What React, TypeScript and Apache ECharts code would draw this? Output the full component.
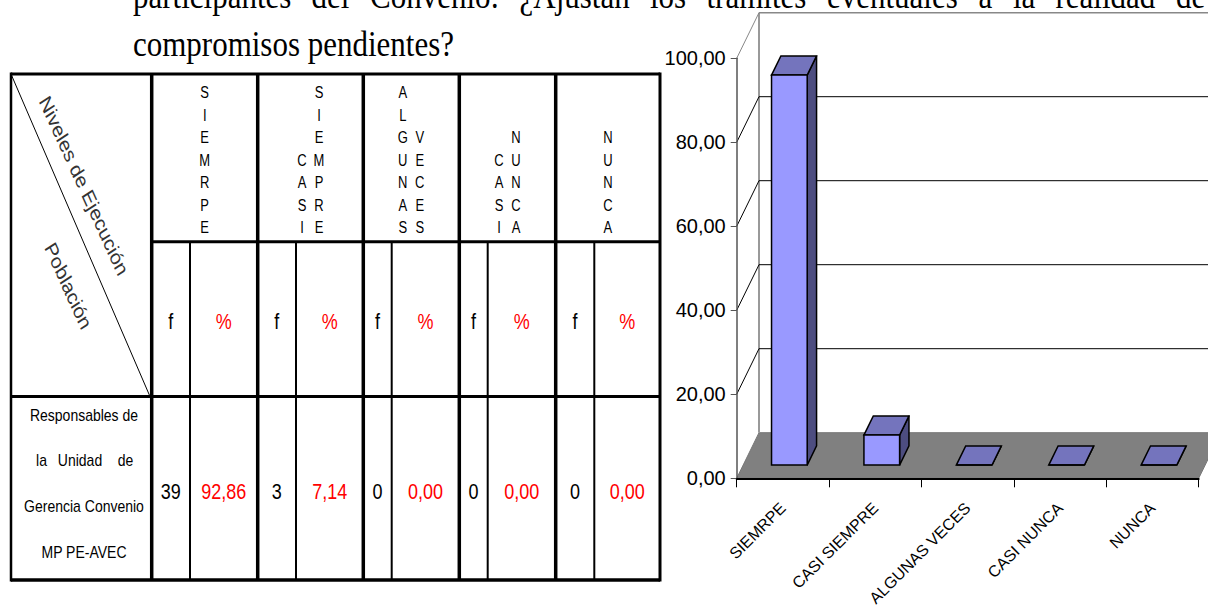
import React, { useEffect, useRef } from 'react';
import * as echarts from 'echarts';

// ---------- data ----------
const categories = ['SIEMRPE', 'CASI SIEMPRE', 'ALGUNAS VECES', 'CASI NUNCA', 'NUNCA'];
const percentages = [92.86, 7.14, 0, 0, 0];
const frequencies = [39, 3, 0, 0, 0];
const yMin = 0;
const yMax = 100;
const yInterval = 20;
const yTicks = [0, 20, 40, 60, 80, 100];
const headerLeft = ['', 'CASI', 'ALGUNAS', 'CASI', ''];
const headerRight = ['SIEMRPE', 'SIEMPRE', 'VECES', 'NUNCA', 'NUNCA'];
const populationLines = ['Responsables de', 'la Unidad de', 'Gerencia Convenio', 'MP PE-AVEC'];
const titleLine1 = ['participantes', 'del', 'Convenio:', '¿Ajustan', 'los', 'trámites', 'eventuales', 'a', 'la', 'realidad', 'de'];
const titleLine2 = 'compromisos pendientes?';
const diagTop = 'Niveles de Ejecución';
const diagBottom = 'Población';

// ---------- layout / style ----------
const SANS = "'Liberation Sans', Arial, sans-serif";
const SERIF = "'Liberation Serif', 'Times New Roman', serif";
const SY = 1.2;
const DX = 22.3;
const DY = -45.6;
const F0 = 0.29;
const F1 = 0.71;
const BAR_FR = 0.386;

const fmt = (v: number) => v.toFixed(2).replace('.', ',');

function txt(x: number, y: number, text: string, o: any = {}) {
  return {
    type: 'group',
    x,
    y,
    scaleY: o.sy ?? SY,
    silent: true,
    children: [
      {
        type: 'text',
        rotation: o.rot || 0,
        style: {
          text,
          x: 0,
          y: 0,
          align: o.align || 'center',
          verticalAlign: o.va || 'middle',
          fill: o.color || '#000',
          fontSize: o.size || 14,
          fontFamily: o.font || SANS,
          lineHeight: o.lh,
        },
      },
    ],
  };
}

function ln(x1: number, y1: number, x2: number, y2: number, w: number, c = '#000') {
  return { type: 'line', silent: true, shape: { x1, y1, x2, y2 }, style: { stroke: c, lineWidth: w } };
}

// table geometry
const TL = 11, TT = 74, TR = 660, TB = 580, HS = 241.7, RS = 396.5;
const groupX = [151.7, 257.7, 363.3, 459.3, 555.7, 660];
const splitX = [190, 296, 391.7, 487.7, 594.3];

function buildGraphics() {
  const g: any[] = [];
  // title
  const t1x = [133, 311.5, 370, 519.5, 650, 706.5, 827, 978.5, 1013, 1055.5, 1176];
  titleLine1.forEach((w, i) => g.push(txt(t1x[i], -4, w, { align: 'left', size: 31, font: SERIF, sy: 1.15 })));
  g.push(txt(133, 44, titleLine2, { align: 'left', size: 31, font: SERIF, sy: 1.15 }));

  // table lines
  g.push(ln(TL, TT, TR, TT, 3));
  g.push(ln(TL, TB, TR, TB, 3.5));
  g.push(ln(TL, TT - 1.5, TL, TB + 1.5, 2.5));
  g.push(ln(TR, TT - 1.5, TR, TB + 1.5, 3));
  g.push(ln(groupX[0], HS, TR, HS, 3));
  g.push(ln(TL, RS, TR, RS, 3));
  groupX.slice(0, 5).forEach((x) => g.push(ln(x, TT, x, TB, 3.5)));
  splitX.forEach((x) => g.push(ln(x, HS, x, TB, 2)));
  g.push(ln(TL, TT, 150, RS, 1));

  // diagonal header texts
  g.push(txt(84, 185.7, diagTop, { rot: -1.074, size: 18, color: '#333' }));
  g.push(txt(68.3, 285.7, diagBottom, { rot: -1.074, size: 18, color: '#333' }));

  // header letters + f / % + values
  for (let k = 0; k < 5; k++) {
    const c = (groupX[k] + groupX[k + 1]) / 2;
    const opts = { va: 'bottom', size: 13, lh: 18.75 };
    if (headerLeft[k]) {
      g.push(txt(c - 8.5, 239.3, headerLeft[k].split('').join('\n'), opts));
      g.push(txt(c + 8.5, 239.3, headerRight[k].split('').join('\n'), opts));
    } else {
      g.push(txt(c, 239.3, headerRight[k].split('').join('\n'), opts));
    }
    const fx = (groupX[k] + splitX[k]) / 2;
    const px = (splitX[k] + groupX[k + 1]) / 2;
    g.push(txt(fx, 321.7, 'f', { size: 18 }));
    g.push(txt(px, 321.7, '%', { size: 18, color: '#ff0000' }));
    g.push(txt(fx, 491.7, String(frequencies[k]), { size: 18 }));
    g.push(txt(px, 491.7, fmt(percentages[k]), { size: 18, color: '#ff0000' }));
  }

  // population cell
  const popY = [415, 460.5, 506, 551.7];
  populationLines.forEach((line, i) => {
    if (i === 1) {
      const words = line.split(' ');
      const xs = [41.5, 80, 125.5];
      words.forEach((w, j) => g.push(txt(xs[j], popY[i], w, { size: 14 })));
    } else {
      g.push(txt(84, popY[i], line, { size: 14 }));
    }
  });
  return g;
}

function buildOption() {
  return {
    animation: false,
    backgroundColor: '#fff',
    grid: { left: 736.7, top: 58.3, width: 462, height: 420, containLabel: false },
    xAxis: {
      type: 'category',
      data: categories,
      boundaryGap: true,
      z: 6,
      axisLine: { show: true, lineStyle: { color: '#000', width: 2 } },
      axisTick: { show: true, length: 9, lineStyle: { color: '#000', width: 1 } },
      axisLabel: { rotate: 45, margin: 27, fontSize: 16, color: '#000', fontFamily: SANS, interval: 0 },
      splitLine: { show: false },
    },
    yAxis: {
      type: 'value',
      min: yMin,
      max: yMax,
      interval: yInterval,
      z: 6,
      axisLine: { show: true, lineStyle: { color: '#555', width: 1.5 } },
      axisTick: { show: true, length: 6, lineStyle: { color: '#555', width: 1 } },
      axisLabel: { formatter: (v: number) => fmt(v), fontSize: 20, color: '#000', margin: 11, fontFamily: SANS },
      splitLine: { show: false },
    },
    graphic: buildGraphics(),
    series: [
      {
        type: 'custom',
        z: 1,
        silent: true,
        data: [[0, 0]],
        renderItem: (params: any, api: any) => {
          const cs = params.coordSys;
          const x0 = cs.x, x1 = cs.x + cs.width, yb = cs.y + cs.height;
          const children: any[] = [];
          children.push({
            type: 'polygon',
            shape: { points: [[x0, yb], [x1, yb], [x1 + DX, yb + DY], [x0 + DX, yb + DY]] },
            style: { fill: '#808080', stroke: '#777', lineWidth: 1 },
          });
          const yTop = api.coord([0, yMax])[1];
          children.push({ type: 'line', shape: { x1: x0 + DX, y1: yTop + DY, x2: x0 + DX, y2: yb + DY }, style: { stroke: '#999', lineWidth: 2 } });
          yTicks.forEach((v) => {
            if (v === yMin) return;
            const y = api.coord([0, v])[1];
            const c = v === yMax ? '#888' : '#000';
            children.push({ type: 'line', shape: { x1: x0, y1: y, x2: x0 + DX, y2: y + DY }, style: { stroke: c, lineWidth: 1 } });
            children.push({ type: 'line', shape: { x1: x0 + DX, y1: y + DY, x2: x1 + DX, y2: y + DY }, style: { stroke: c, lineWidth: v === yMax ? 1.5 : 1 } });
          });
          return { type: 'group', children };
        },
      },
      {
        type: 'custom',
        z: 3,
        silent: true,
        data: categories.map((c, i) => [i, percentages[i]]),
        encode: { x: 0, y: 1 },
        renderItem: (params: any, api: any) => {
          const i = api.value(0);
          const v = api.value(1);
          const base = api.coord([i, 0]);
          const top = api.coord([i, v]);
          const band = api.size([1, 0])[0];
          const w = band * BAR_FR;
          const xl = base[0] - w / 2 + DX * F0;
          const xr = xl + w;
          const yb = base[1] + DY * F0;
          const yt = top[1] + DY * F0;
          const ddx = DX * (F1 - F0);
          const ddy = DY * (F1 - F0);
          const st = { stroke: '#000', lineWidth: 1.5, lineJoin: 'miter' };
          return {
            type: 'group',
            children: [
              { type: 'polygon', shape: { points: [[xr, yb], [xr, yt], [xr + ddx, yt + ddy], [xr + ddx, yb + ddy]] }, style: { ...st, fill: '#4d4d80' } },
              { type: 'polygon', shape: { points: [[xl, yt], [xr, yt], [xr + ddx, yt + ddy], [xl + ddx, yt + ddy]] }, style: { ...st, fill: '#7474bd' } },
              { type: 'rect', shape: { x: xl, y: yt, width: w, height: yb - yt }, style: { ...st, fill: '#9999ff' } },
            ],
          };
        },
      },
    ],
  };
}

export default function App() {
  const ref = useRef<HTMLDivElement>(null);
  useEffect(() => {
    const chart = echarts.init(ref.current as HTMLDivElement, null, { renderer: 'svg' });
    chart.setOption(buildOption() as any);
    return () => chart.dispose();
  }, []);
  return (
    <div
      ref={ref}
      style={{ position: 'fixed', left: 0, top: 0, width: 1208, height: 612, background: '#fff' }}
    />
  );
}
